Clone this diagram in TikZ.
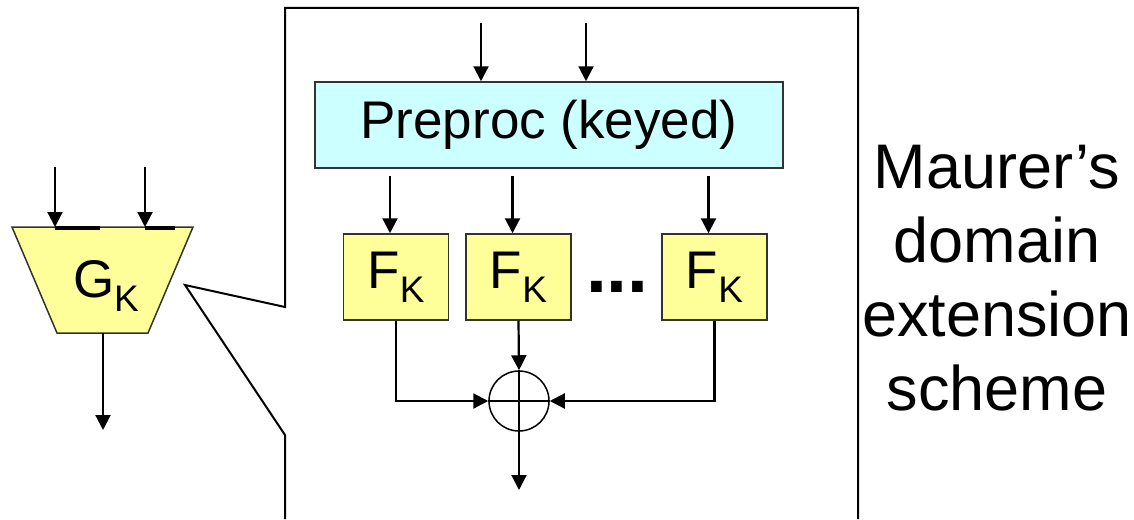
\documentclass[tikz,border=0pt]{standalone}
\usepackage{fontspec}
\setmainfont{Liberation Sans}
\usetikzlibrary{arrows.meta,positioning,calc}
\definecolor{preblue}{HTML}{CCFFFF}
\definecolor{fyellow}{HTML}{FFFF99}
\definecolor{edgegrey}{HTML}{333333}
\newcommand{\subk}[1]{#1\raisebox{-14pt}{\fontsize{37}{37}\selectfont K}}

\begin{document}
\begin{tikzpicture}[x=1pt,y=-1pt,line width=2pt,
    big/.style={font=\fontsize{53}{60}\selectfont},
    fbox/.style={big,draw=edgegrey,line width=1.5pt,fill=fyellow,minimum width=105pt,minimum height=86pt,inner sep=0pt},
    wire/.style={line width=2.2pt,-{Triangle[length=15pt,width=15pt]}}]
    \useasboundingbox (0,0) rectangle (1134,519);
    % zoomed frame
    \draw (285,519) -- (285,435) -- (185,285) -- (285,307) -- (285,8) -- (858,8) -- (858,519);
    % G_K block
    \fill[fyellow,draw=edgegrey,line width=1.5pt] (12,227) -- (193,227) -- (148,333) -- (57,333) -- cycle;
    \draw[line width=3.5pt] (55,228) -- (100,228) (145,228) -- (175,228);
    \node[big,anchor=base west,inner sep=0pt] (glabel) at (72,297){\subk{G}};
    \coordinate (gin1) at (55,167);
    \coordinate (gin2) at (145,167);
    \coordinate (gtop1) at (55,227);
    \coordinate (gtop2) at (145,227);
    \coordinate (gbot) at (103,333);
    \coordinate (gout) at (103,430);
    \draw[wire] (gin1) -- (gtop1);
    \draw[wire] (gin2) -- (gtop2);
    \draw[wire] (gbot) -- (gout);
    % inside the frame
    \node[big,draw=edgegrey,line width=1.5pt,fill=preblue,minimum width=468pt,minimum height=86pt] (pre) at (549,125){Preproc (keyed)};
    \node[fbox] (f1) at (396,277){\subk{F}};
    \node[fbox] (f2) at (518.5,277){\subk{F}};
    \node[fbox] (f3) at (714.5,277){\subk{F}};
    \node[font=\fontsize{75}{75}\selectfont\bfseries,anchor=base west,inner sep=0pt] (dots) at (585,292){...};
    \node[circle,draw,line width=1.5pt,minimum size=60pt,inner sep=0pt] (xor) at (519,401){};
    \draw[line width=1.5pt] (xor.north) -- (xor.south) (xor.west) -- (xor.east);
    \coordinate (pin1) at (481,23);
    \coordinate (pin2) at (586,23);
    \coordinate (out) at (519,490);
    \draw[wire] (pin1) -- (pin1 |- pre.north);
    \draw[wire] (pin2) -- (pin2 |- pre.north);
    \foreach \f in {f1,f2,f3}
      \draw[wire] ($(\f.north |- pre.south)+(-6,7)$) -- ($(\f.north)+(-6,0)$);
    \draw[wire] (f1.south) |- (xor.west);
    \draw[wire] (f3.south) |- (xor.east);
    \draw[wire] (f2.south) -- (xor.north);
    \draw[wire] (xor.south) -- (out);
    % caption on the right
    \node[font=\fontsize{63}{74}\selectfont,align=center,anchor=base] (title) at (997,410){Maurer’s\\domain\\extension\\scheme};
  \end{tikzpicture}
\end{document}
